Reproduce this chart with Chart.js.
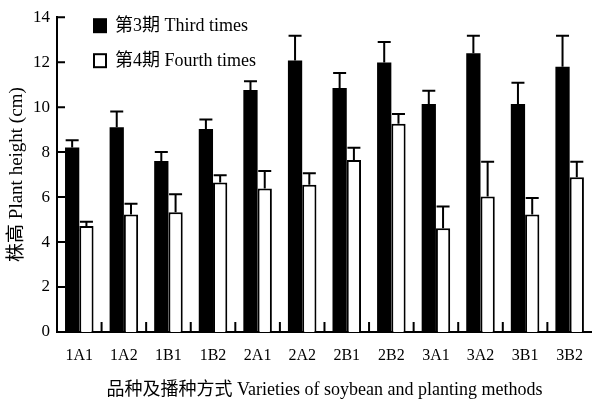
<!DOCTYPE html>
<html lang="zh">
<head>
    <meta charset="UTF-8">
    <title>Plant height</title>
    <script src="https://cdn.jsdelivr.net/npm/chart.js"></script>
    <style>
        html, body { margin: 0; padding: 0; background: #fff; }
        #wrap { width: 597px; height: 405px; }
    </style>
</head>
<body>

<div id="wrap">
    <canvas id="heightChart"></canvas>
</div>

<script>
// data
const categories = ["1A1", "1A2", "1B1", "1B2", "2A1", "2A2", "2B1", "2B2", "3A1", "3A2", "3B1", "3B2"];
const thirdTimes = [8.20, 9.11, 7.60, 9.03, 10.76, 12.07, 10.85, 11.98, 10.14, 12.40, 10.14, 11.80];
const thirdErr   = [0.33, 0.70, 0.40, 0.42, 0.39, 1.10, 0.67, 0.92, 0.59, 0.77, 0.94, 1.37];
const fourthTimes = [4.71, 5.23, 5.33, 6.65, 6.38, 6.55, 7.65, 9.26, 4.61, 6.03, 5.23, 6.88];
const fourthErr   = [0.19, 0.47, 0.80, 0.32, 0.78, 0.51, 0.54, 0.44, 0.97, 1.54, 0.73, 0.69];
const yTicks = [0, 2, 4, 6, 8, 10, 12, 14];

const FONT = "'Liberation Serif', 'Noto Sans CJK SC', serif";

// upward error bars
const errorBars = {
    id: "errorBars",
    afterDatasetsDraw(chart) {
        const ctx = chart.ctx;
        const y = chart.scales.y;
        ctx.save();
        ctx.strokeStyle = "#000";
        ctx.lineWidth = 2;
        chart.data.datasets.forEach((ds, i) => {
            const meta = chart.getDatasetMeta(i);
            meta.data.forEach((bar, j) => {
                const top = y.getPixelForValue(ds.data[j] + ds.errors[j]);
                ctx.beginPath();
                ctx.moveTo(bar.x, bar.y);
                ctx.lineTo(bar.x, top);
                ctx.moveTo(bar.x - 6.5, top);
                ctx.lineTo(bar.x + 6.5, top);
                ctx.stroke();
            });
        });
        ctx.restore();
    }
};

// inward ticks on both axes
const innerTicks = {
    id: "innerTicks",
    afterDraw(chart) {
        const ctx = chart.ctx;
        const area = chart.chartArea;
        const x = chart.scales.x, y = chart.scales.y;
        ctx.save();
        ctx.strokeStyle = "#000";
        ctx.lineWidth = 2;
        ctx.beginPath();
        yTicks.forEach(v => {
            const py = y.getPixelForValue(v);
            ctx.moveTo(area.left, py);
            ctx.lineTo(area.left + 8, py);
        });
        const step = (area.right - area.left) / categories.length;
        for (let i = 1; i < categories.length; i++) {
            const px = x.getPixelForValue(i) - step / 2;
            ctx.moveTo(px, area.bottom);
            ctx.lineTo(px, area.bottom - 10);
        }
        ctx.stroke();
        ctx.restore();
    }
};

// legend drawn inside the plot
const innerLegend = {
    id: "innerLegend",
    afterDraw(chart) {
        const ctx = chart.ctx;
        const area = chart.chartArea;
        ctx.save();
        ctx.font = "18px " + FONT;
        ctx.textBaseline = "middle";
        chart.data.datasets.forEach((ds, i) => {
            const bx = area.left + 36, by = area.top + 1 + i * 35;
            ctx.fillStyle = ds.backgroundColor;
            ctx.fillRect(bx, by, 14, 15);
            if (ds.borderWidth) {
                ctx.strokeStyle = "#000";
                ctx.lineWidth = 2;
                ctx.strokeRect(bx + 1, by + 1, 12, 13);
            }
            ctx.fillStyle = "#000";
            ctx.fillText(ds.label, bx + 22, by + 8);
        });
        ctx.restore();
    }
};

new Chart(document.getElementById("heightChart"), {
    type: "bar",
    data: {
        labels: categories,
        datasets: [{
            label: "第3期 Third times",
            data: thirdTimes,
            errors: thirdErr,
            backgroundColor: "#000",
            borderWidth: 0
        }, {
            label: "第4期 Fourth times",
            data: fourthTimes,
            errors: fourthErr,
            backgroundColor: "#fff",
            borderColor: "#000",
            borderWidth: 2
        }]
    },
    options: {
        responsive: true,
        maintainAspectRatio: false,
        animation: false,
        events: [],
        layout: { padding: { top: 14, right: 0, left: 0, bottom: 0 } },
        datasets: { bar: { categoryPercentage: 0.64, barPercentage: 1.0 } },
        plugins: {
            legend: { display: false },
            tooltip: { enabled: false }
        },
        scales: {
            x: {
                grid: { display: false, drawTicks: false },
                border: { color: "#000", width: 2 },
                ticks: { color: "#000", padding: 14, font: { family: FONT, size: 16 } },
                title: {
                    display: true,
                    text: "品种及播种方式 Varieties of soybean and planting methods",
                    color: "#000",
                    font: { family: FONT, size: 18 },
                    padding: { top: 8, bottom: 4 }
                },
                afterFit(scale) { scale.height = 73; }
            },
            y: {
                min: 0,
                max: 14,
                grid: { display: false, drawTicks: false },
                border: { color: "#000", width: 2 },
                ticks: { color: "#000", stepSize: 2, padding: 7, font: { family: FONT, size: 17 } },
                title: {
                    display: true,
                    text: "株高 Plant height (cm)",
                    color: "#000",
                    font: { family: FONT, size: 19 },
                    padding: { top: 6, bottom: 0 }
                },
                afterFit(scale) { scale.width = 57; }
            }
        }
    },
    plugins: [errorBars, innerTicks, innerLegend]
});
</script>

</body>
</html>
